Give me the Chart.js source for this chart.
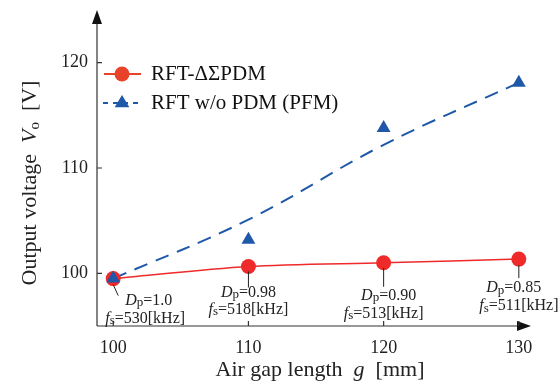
<!DOCTYPE html>
<html>
<head>
<meta charset="utf-8">
<script src="https://cdn.jsdelivr.net/npm/chart.js@4.4.0/dist/chart.umd.min.js"></script>
<style>
  body { margin: 0; background: #fff; }
  #wrap { width: 560px; height: 387px; }
</style>
</head>
<body>
<div id="wrap"><canvas id="myChart" width="560" height="387"></canvas></div>
<script>
// data
const gapLengths = [100, 110, 120, 130];
const rftPdmVolts = [99.5, 100.65, 101.0, 101.35];
const pfmVolts = [99.5, 103.2, 113.8, 118.1];
const pfmFitVolts = [99.5, 105.1, 112.2, 118.1];
const dpLabels = ["1.0", "0.98", "0.90", "0.85"];
const fsLabels = ["530", "518", "513", "511"];
const xTicks = [100, 110, 120, 130];
const yTicks = [100, 110, 120];

// where the annotation texts sit relative to their point (px)
const annotLayout = [
  { lead: [[0, 6], [5, 17]], dp: [12, 22], fs: [-8, 40] },
  { lead: [[0, 5], [0, 21]], dp: [0, 26], fs: [0, 43] },
  { lead: [[0, 5], [0, 24]], dp: [5, 33], fs: [0, 51] },
  { lead: [[0, 6], [0, 19]], dp: [-5, 29], fs: [0, 47] }
];

const SERIF = '"Liberation Serif", "DejaVu Serif", serif';
const RED = "#ee2a2a";
const BLUE = "#1f58a8";

const toPts = (ys) => gapLengths.map((g, i) => ({ x: g, y: ys[i] }));

// draws a run of text pieces with their own style
const drawRich = (ctx, parts, x, y, align) => {
  let w = 0;
  parts.forEach(p => {
    ctx.font = (p.it ? "italic " : "") + p.size + "px " + SERIF;
    w += ctx.measureText(p.t).width;
  });
  let cx = align === "center" ? x - w / 2 : (align === "right" ? x - w : x);
  ctx.textAlign = "left";
  ctx.textBaseline = "middle";
  parts.forEach(p => {
    ctx.font = (p.it ? "italic " : "") + p.size + "px " + SERIF;
    ctx.fillText(p.t, cx, y + (p.dy || 0));
    cx += ctx.measureText(p.t).width;
  });
};

const triangle = (ctx, x, y, r) => {
  ctx.beginPath();
  ctx.moveTo(x, y - r);
  ctx.lineTo(x + r * 1.05, y + r * 0.75);
  ctx.lineTo(x - r * 1.05, y + r * 0.75);
  ctx.closePath();
  ctx.fill();
};

const decorPlugin = {
  id: "decor",
  afterDraw(chart) {
    const ctx = chart.ctx;
    const xs = chart.scales.x;
    const ys = chart.scales.y;
    const a = chart.chartArea;
    ctx.save();
    ctx.fillStyle = "#111";
    ctx.strokeStyle = "#333";
    ctx.lineWidth = 1.2;

    // axes with arrows
    ctx.beginPath();
    ctx.moveTo(a.left, a.bottom);
    ctx.lineTo(a.left, a.top + 8);
    ctx.moveTo(a.left, a.bottom);
    ctx.lineTo(a.right - 8, a.bottom);
    ctx.stroke();
    ctx.beginPath();
    ctx.moveTo(a.left, a.top);
    ctx.lineTo(a.left - 5, a.top + 14);
    ctx.lineTo(a.left + 5, a.top + 14);
    ctx.closePath();
    ctx.fill();
    ctx.beginPath();
    ctx.moveTo(a.right, a.bottom);
    ctx.lineTo(a.right - 14, a.bottom - 5);
    ctx.lineTo(a.right - 14, a.bottom + 5);
    ctx.closePath();
    ctx.fill();

    // ticks and tick labels
    ctx.beginPath();
    xTicks.forEach(v => {
      const px = xs.getPixelForValue(v);
      ctx.moveTo(px, a.bottom);
      ctx.lineTo(px, a.bottom - 5);
    });
    yTicks.forEach(v => {
      const py = ys.getPixelForValue(v);
      ctx.moveTo(a.left, py);
      ctx.lineTo(a.left + 5, py);
    });
    ctx.stroke();
    ctx.fillStyle = "#222";
    xTicks.forEach(v => drawRich(ctx, [{ t: String(v), size: 18 }], xs.getPixelForValue(v), a.bottom + 22, "center"));
    yTicks.forEach(v => drawRich(ctx, [{ t: String(v), size: 18 }], a.left - 9, ys.getPixelForValue(v), "right"));

    // axis titles
    drawRich(ctx, [
      { t: "Air gap length  ", size: 22 },
      { t: "g", size: 22, it: true },
      { t: "  [mm]", size: 22 }
    ], 320, 370, "center");
    ctx.save();
    ctx.translate(30, 183);
    ctx.rotate(-Math.PI / 2);
    drawRich(ctx, [
      { t: "Output voltage  ", size: 22 },
      { t: "V", size: 22, it: true },
      { t: "o", size: 15, dy: 5 },
      { t: "  [V]", size: 22 }
    ], 0, 0, "center");
    ctx.restore();

    // annotations under the red points
    ctx.strokeStyle = "#222";
    ctx.lineWidth = 1;
    gapLengths.forEach((g, i) => {
      const px = xs.getPixelForValue(g);
      const py = ys.getPixelForValue(rftPdmVolts[i]);
      const L = annotLayout[i];
      ctx.beginPath();
      ctx.moveTo(px + L.lead[0][0], py + L.lead[0][1]);
      ctx.lineTo(px + L.lead[1][0], py + L.lead[1][1]);
      ctx.stroke();
      const anchor = i === 0 ? "left" : "center";
      drawRich(ctx, [
        { t: "D", size: 16, it: true },
        { t: "p", size: 13, dy: 2 },
        { t: "=" + dpLabels[i], size: 16 }
      ], px + L.dp[0], py + L.dp[1], anchor);
      drawRich(ctx, [
        { t: "f", size: 16, it: true },
        { t: "s", size: 13, dy: 2 },
        { t: "=" + fsLabels[i] + "[kHz]", size: 16 }
      ], px + L.fs[0], py + L.fs[1], anchor);
    });

    // legend
    ctx.lineWidth = 2;
    ctx.strokeStyle = "#e8432a";
    ctx.setLineDash([]);
    ctx.beginPath();
    ctx.moveTo(104, 74);
    ctx.lineTo(141, 74);
    ctx.stroke();
    ctx.fillStyle = "#e8432a";
    ctx.beginPath();
    ctx.arc(122, 74, 7.5, 0, Math.PI * 2);
    ctx.fill();
    ctx.strokeStyle = BLUE;
    ctx.setLineDash([5, 5]);
    ctx.beginPath();
    ctx.moveTo(103, 103);
    ctx.lineTo(142, 103);
    ctx.stroke();
    ctx.setLineDash([]);
    ctx.fillStyle = BLUE;
    triangle(ctx, 122, 102, 7);
    ctx.fillStyle = "#111";
    drawRich(ctx, [{ t: "RFT-ΔΣPDM", size: 21 }], 151, 74, "left");
    drawRich(ctx, [{ t: "RFT w/o PDM (PFM)", size: 21 }], 151, 103, "left");
    ctx.restore();
  }
};

const ctx = document.getElementById("myChart").getContext("2d");
new Chart(ctx, {
  type: "scatter",
  data: {
    datasets: [
      {
        label: "RFT w/o PDM (PFM)",
        data: toPts(pfmVolts),
        showLine: false,
        pointStyle: "triangle",
        pointRadius: 8,
        backgroundColor: BLUE,
        borderColor: BLUE,
        borderWidth: 0,
        order: 0
      },
      {
        label: "RFT-ΔΣPDM",
        data: toPts(rftPdmVolts),
        showLine: true,
        tension: 0.3,
        borderColor: RED,
        borderWidth: 1.5,
        pointRadius: 7.5,
        backgroundColor: RED,
        pointBorderWidth: 0,
        order: 1
      },
      {
        label: "fit",
        data: toPts(pfmFitVolts),
        showLine: true,
        tension: 0.4,
        borderColor: BLUE,
        borderWidth: 2,
        borderDash: [14, 9],
        pointRadius: 0,
        order: 2
      }
    ]
  },
  options: {
    responsive: false,
    animation: false,
    layout: { padding: { left: 97, right: 29, top: 10, bottom: 61 } },
    plugins: { legend: { display: false }, tooltip: { enabled: false } },
    scales: {
      x: {
        type: "linear", min: 98.8, max: 130.9,
        ticks: { display: false }, grid: { display: false, drawTicks: false }, border: { display: false }
      },
      y: {
        type: "linear", min: 95, max: 125,
        ticks: { display: false }, grid: { display: false, drawTicks: false }, border: { display: false }
      }
    }
  },
  plugins: [decorPlugin]
});
</script>
</body>
</html>
